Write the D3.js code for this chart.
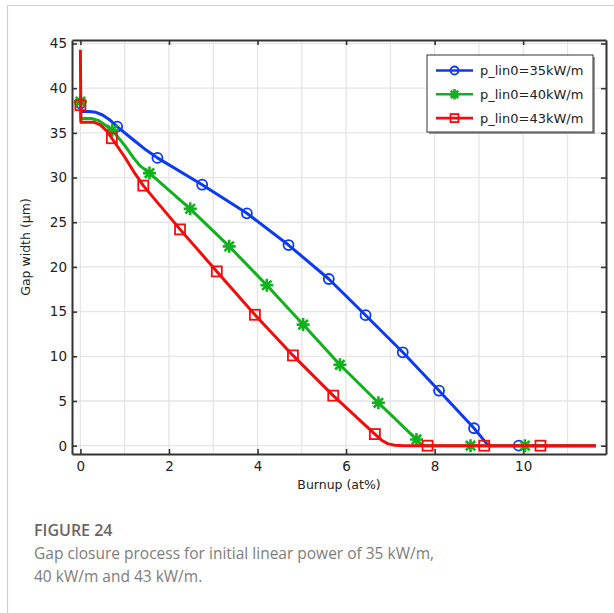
<!DOCTYPE html>
<html>
<head>
<meta charset="utf-8">
<script src="https://cdn.jsdelivr.net/npm/d3@7"></script>
<style>
  html, body { margin: 0; padding: 0; background: #fff; }
  svg { display: block; }
</style>
</head>
<body>
<svg id="chart" width="614" height="613"></svg>
<script>
// ---- Data ----
const seriesNames = ["p_lin0=35kW/m", "p_lin0=40kW/m", "p_lin0=43kW/m"];
const seriesColors = ["#0a3af2", "#10b21c", "#f20c0c"];
const markerTypes = ["circle", "star", "square"];

// curve points [burnup at%, gap width µm]
const line35 = [[0,38.3],[0.01,37.4],[0.2,37.4],[0.35,37.3],[0.5,37.0],[0.65,36.5],[0.83,35.7],[1.2,34.2],[1.45,33.2],[1.6,32.7],[1.74,32.2],[2.75,29.2],[3.76,26.0],[4.7,22.45],[5.61,18.65],[6.44,14.6],[7.28,10.45],[8.1,6.15],[8.89,1.95],[9.18,0.2],[9.26,0],[11.64,0]];
const line40 = [[0,38.5],[0.01,36.6],[0.25,36.6],[0.4,36.4],[0.55,35.9],[0.72,35.3],[1.0,33.6],[1.2,32.2],[1.35,31.3],[1.56,30.5],[2.48,26.5],[3.36,22.3],[4.21,17.95],[5.03,13.55],[5.86,9.05],[6.73,4.8],[7.59,0.7],[7.7,0.12],[7.78,0],[11.64,0]];
const line43 = [[0,44.3],[0.01,36.2],[0.3,36.2],[0.45,35.9],[0.6,35.2],[0.71,34.4],[1.0,32.3],[1.2,30.7],[1.42,29.1],[2.25,24.2],[3.08,19.5],[3.94,14.65],[4.8,10.1],[5.71,5.6],[6.65,1.3],[6.82,0.55],[6.95,0.2],[7.1,0.05],[7.3,0],[11.64,0]];

// marker points
const marks35 = [[0,38.3],[0.83,35.7],[1.74,32.2],[2.75,29.2],[3.76,26.0],[4.7,22.45],[5.61,18.65],[6.44,14.6],[7.28,10.45],[8.1,6.15],[8.89,1.95],[9.9,0]];
const marks40 = [[0,38.5],[0.72,35.3],[1.56,30.5],[2.48,26.5],[3.36,22.3],[4.21,17.95],[5.03,13.55],[5.86,9.05],[6.73,4.8],[7.59,0.7],[8.81,0],[10.04,0]];
const marks43 = [[0,38.1],[0.71,34.4],[1.42,29.1],[2.25,24.2],[3.08,19.5],[3.94,14.65],[4.8,10.1],[5.71,5.6],[6.65,1.3],[7.84,0],[9.12,0],[10.39,0]];

const xTicks = [0, 2, 4, 6, 8, 10];
const xGrid = [0,1,2,3,4,5,6,7,8,9,10,11];
const yTicks = [0, 5, 10, 15, 20, 25, 30, 35, 40, 45];

const xLabel = "Burnup (at%)";
const yLabel = "Gap width (μm)";
const captionTitle = "FIGURE 24";
const captionLines = ["Gap closure process for initial linear power of 35 kW/m,", "40 kW/m and 43 kW/m."];

const lines = [line35, line40, line43];
const marks = [marks35, marks40, marks43];

// ---- Layout ----
const svg = d3.select("#chart");
const L = 72, R = 606, T = 40, B = 454;
const x = d3.scaleLinear().domain([-0.19, 11.87]).range([L, R]);
const y = d3.scaleLinear().domain([-0.93, 45.39]).range([B, T]);
const font = "'DejaVu Sans', sans-serif";
const axisColor = "#333";

// outer figure frame
svg.append("path").attr("d", "M7.5,613 V5.5 H614").attr("fill", "none").attr("stroke", "#d0d0d0").attr("stroke-width", 1.2);

// grid
const grid = svg.append("g");
grid.selectAll(".vg").data(xGrid).enter().append("line")
  .attr("x1", d => x(d)).attr("x2", d => x(d)).attr("y1", T).attr("y2", B)
  .attr("stroke", "#e5e5e5").attr("stroke-width", 1.3);
grid.selectAll(".hg").data(yTicks).enter().append("line")
  .attr("x1", L).attr("x2", R).attr("y1", d => y(d)).attr("y2", d => y(d))
  .attr("stroke", "#e5e5e5").attr("stroke-width", 1.3);

// axes via d3 axis with inward ticks
const axB = svg.append("g").attr("transform", `translate(0,${B})`)
  .call(d3.axisBottom(x).tickValues(xTicks).tickSizeInner(-5).tickSizeOuter(0).tickPadding(7).tickFormat(d3.format("d")));
const axT = svg.append("g").attr("transform", `translate(0,${T})`)
  .call(d3.axisTop(x).tickValues(xTicks).tickSizeInner(-5).tickSizeOuter(0).tickFormat(""));
const axL = svg.append("g").attr("transform", `translate(${L},0)`)
  .call(d3.axisLeft(y).tickValues(yTicks).tickSizeInner(-5).tickSizeOuter(0).tickPadding(5).tickFormat(d3.format("d")));
const axR = svg.append("g").attr("transform", `translate(${R},0)`)
  .call(d3.axisRight(y).tickValues(yTicks).tickSizeInner(-5).tickSizeOuter(0).tickFormat(""));
[axB, axT, axL, axR].forEach(a => {
  a.select(".domain").attr("stroke", axisColor).attr("stroke-width", 2);
  a.selectAll(".tick line").attr("stroke", axisColor).attr("stroke-width", 1.6);
  a.selectAll("text").attr("fill", "#222").style("font-family", font).style("font-size", "13.5px");
});

// clip
svg.append("clipPath").attr("id", "clip").append("rect").attr("x", L).attr("y", T).attr("width", R - L).attr("height", B - T);

const lineGen = d3.line().x(d => x(d[0])).y(d => y(d[1]));

function drawMarker(g, type, cx, cy, color, s) {
  if (type === "circle") {
    g.append("circle").attr("cx", cx).attr("cy", cy).attr("r", 5 * s)
      .attr("fill", "none").attr("stroke", color).attr("stroke-width", 1.8);
  } else if (type === "square") {
    const h = 5 * s;
    g.append("rect").attr("x", cx - h).attr("y", cy - h).attr("width", 2 * h).attr("height", 2 * h)
      .attr("fill", "none").attr("stroke", color).attr("stroke-width", 1.8);
  } else {
    const r = 6.5 * s, d = r * 0.72;
    const p = `M${cx - r},${cy}H${cx + r}M${cx},${cy - r}V${cy + r}M${cx - d},${cy - d}L${cx + d},${cy + d}M${cx - d},${cy + d}L${cx + d},${cy - d}`;
    g.append("path").attr("d", p).attr("stroke", color).attr("stroke-width", 2.6).attr("fill", "none");
  }
}

const plot = svg.append("g").attr("clip-path", "url(#clip)");
lines.forEach((ln, i) => {
  plot.append("path").datum(ln).attr("d", lineGen)
    .attr("fill", "none").attr("stroke", seriesColors[i]).attr("stroke-width", 3)
    .attr("stroke-linejoin", "round").attr("stroke-linecap", "butt");
  const mg = plot.append("g");
  marks[i].forEach(m => drawMarker(mg, markerTypes[i], x(m[0]), y(m[1]), seriesColors[i], 1));
});

// legend
const lg = svg.append("g");
lg.append("rect").attr("x", 429).attr("y", 57).attr("width", 166).attr("height", 77).attr("fill", "#999");
lg.append("rect").attr("x", 427).attr("y", 55).attr("width", 166).attr("height", 77)
  .attr("fill", "#fff").attr("stroke", "#333").attr("stroke-width", 1);
seriesNames.forEach((name, i) => {
  const ly = 70.5 + i * 23.8;
  lg.append("line").attr("x1", 436).attr("x2", 473).attr("y1", ly).attr("y2", ly)
    .attr("stroke", seriesColors[i]).attr("stroke-width", 2.6);
  drawMarker(lg, markerTypes[i], 454.5, ly, seriesColors[i], 0.8);
  lg.append("text").attr("x", 480).attr("y", ly + 4.7).text(name)
    .attr("fill", "#222").style("font-family", font).style("font-size", "13px");
});

// axis labels
svg.append("text").attr("x", (L + R) / 2).attr("y", 489).attr("text-anchor", "middle")
  .text(xLabel).attr("fill", "#222").style("font-family", font).style("font-size", "12.5px");
svg.append("text").attr("transform", `translate(30,${(T + B) / 2}) rotate(-90)`).attr("text-anchor", "middle")
  .text(yLabel).attr("fill", "#222").style("font-family", font).style("font-size", "12.5px");

// caption
const capFont = "'Open Sans', 'Noto Sans', sans-serif";
svg.append("text").attr("x", 34).attr("y", 536).text(captionTitle)
  .attr("fill", "#666").style("font-family", capFont).style("font-size", "16px").style("font-weight", 600);
captionLines.forEach((t, i) => {
  svg.append("text").attr("x", 34).attr("y", 559 + i * 23).text(t)
    .attr("fill", "#7d7d7d").style("font-family", capFont).style("font-size", "15.5px").style("font-weight", 400);
});
</script>
</body>
</html>
